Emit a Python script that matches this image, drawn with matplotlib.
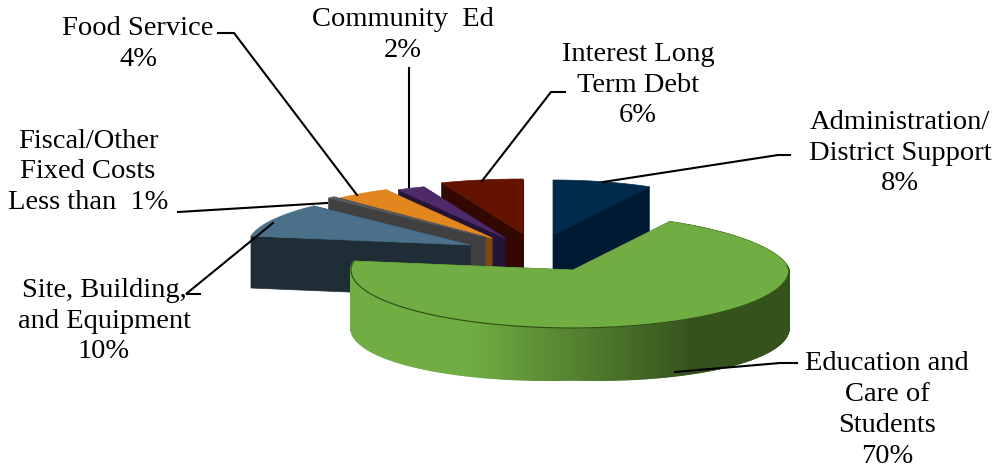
import numpy as np
import matplotlib
matplotlib.use("Agg")
import matplotlib.pyplot as plt
from matplotlib.colors import to_rgb
from matplotlib.patches import Polygon

# Budget shares, clockwise from twelve o'clock
categories = ["Administration/\nDistrict Support", "Education and\nCare of\nStudents",
              "Site, Building,\nand Equipment", "Fiscal/Other\nFixed Costs\nLess than",
              "Food Service", "Community  Ed", "Interest Long\nTerm Debt"]
shares = [8, 70, 10, 0.5, 4, 2, 6]
share_labels = ["8%", "70%", "10%", "1%", "4%", "2%", "6%"]

top_colors = ["#002B4A", "#70AD42", "#4A7189", "#5A5A5A", "#E2861F", "#4F2A68", "#641300"]
wall_colors = ["#001A33", "#35511C", "#1F2D36", "#404040", "#7A4A10", "#25143A", "#330800"]

# Pie centre in pixels and how far each slice is pulled out of it
CX, CY = 538, 250
EXPLODE_DX = [15, 35, -68, -53, -46, -33, -15]
EXPLODE_DY = [-15, 20, -5, -13, -12, -12, -16]

RX_LEFT, RX_RIGHT = 222, 216
RY_BACK, RY_FRONT = 55, 58
DEPTH = 52

# back slices first, green last
DRAW_ORDER = [0, 6, 5, 4, 3, 2, 1]


def rim_point(ax_x, ax_y, deg):
    a = np.radians(deg)
    s, c = np.sin(a), np.cos(a)
    if s < 0:
        x = s * RX_LEFT
    else:
        # right side narrows slightly towards the back
        x = s * RX_RIGHT * (1 - 0.08 * max(c, 0))
    y = -c * (RY_BACK if c > 0 else RY_FRONT)
    return ax_x + x, ax_y + y


def draw_slice(ax, i, start, end):
    ox, oy = CX + EXPLODE_DX[i], CY + EXPLODE_DY[i]
    degs = np.linspace(start, end, max(int((end - start) * 2), 4))
    arc = [rim_point(ox, oy, d) for d in degs]

    # radial walls
    for corner in (arc[0], arc[-1]):
        wall = [(ox, oy), corner, (corner[0], corner[1] + DEPTH), (ox, oy + DEPTH)]
        ax.add_patch(Polygon(wall, closed=True, fc=wall_colors[i], ec=wall_colors[i], lw=0.5))

    # only the big slice shows its outer rim, shaded from left to right
    if i == 1:
        light = np.array(to_rgb(top_colors[i]))
        dark = np.array(to_rgb(wall_colors[i]))
        for j in range(len(arc) - 1):
            (x0, y0), (x1, y1) = arc[j], arc[j + 1]
            h0 = DEPTH + 6 * abs(np.sin(np.radians(degs[j])))
            h1 = DEPTH + 6 * abs(np.sin(np.radians(degs[j + 1])))
            t = np.clip((x0 - 470) / 225, 0, 1)
            col = light + (dark - light) * t
            ax.add_patch(Polygon([(x0, y0), (x1, y1), (x1, y1 + h1), (x0, y0 + h0)],
                                 closed=True, fc=col, ec=col, lw=1.0))

    # top surface
    ax.add_patch(Polygon([(ox, oy)] + arc, closed=True, fc=top_colors[i],
                         ec=top_colors[i], lw=0.5))
    if i == 1:
        front = [p for p, d in zip(arc, degs) if d > 85]
        xs, ys = zip(*front)
        ax.plot(xs, ys, color="#2E4A18", lw=0.8)


fig = plt.figure(figsize=(9.97, 4.76), dpi=100)
ax = fig.add_axes([0, 0, 1, 1])
ax.set_xlim(0, 997)
ax.set_ylim(476, 0)
ax.axis("off")

edges = np.concatenate([[0], np.cumsum(shares)]) / np.sum(shares) * 360
for i in DRAW_ORDER:
    draw_slice(ax, i, edges[i], edges[i + 1])

# leader lines
leaders = [
    [(790, 155), (778, 155), (603, 182)],
    [(797, 363), (780, 363), (675, 372)],
    [(200, 294), (186, 294), (273, 223)],
    [(178, 212), (327, 203)],
    [(218, 33), (234, 33), (357, 195)],
    [(409, 68), (409, 187)],
    [(565, 92), (551, 92), (482, 181)],
]
for pts in leaders:
    xs, ys = zip(*pts)
    ax.plot(xs, ys, color="black", lw=1.5, solid_joinstyle="miter")

# label block centres
label_pos = [(900, 153), (887, 410), (104, 321), (88, 172), (138, 44), (403, 35), (638, 85)]
for i, (x, y) in enumerate(label_pos):
    if i == 3:
        txt = categories[i] + "  " + share_labels[i]
    else:
        txt = categories[i] + "\n" + share_labels[i]
    ax.text(x, y, txt, family="Liberation Serif", fontsize=20.5, ha="center", va="center",
            linespacing=1.3, color="black")

fig.savefig("out.png", dpi=100)
